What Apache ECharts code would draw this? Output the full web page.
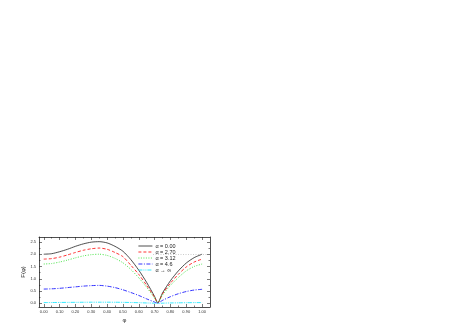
<!DOCTYPE html>
<html>
<head>
<meta charset="utf-8">
<script src="https://cdn.jsdelivr.net/npm/echarts@6/dist/echarts.min.js"></script>
<style>
  html, body { margin: 0; padding: 0; background: #fff; }
  #chart { width: 463px; height: 327px; }
</style>
</head>
<body>
<div id="chart"></div>
<script>
// phi sample points
const phi = [0.00, 0.05, 0.10, 0.15, 0.20, 0.25, 0.30, 0.35, 0.40, 0.45, 0.50, 0.55, 0.60, 0.65, 0.70, 0.72, 0.75, 0.80, 0.85, 0.90, 0.95, 1.00]

// F(phi) for each alpha
const alpha000 = [2.00, 2.02, 2.10, 2.20, 2.32, 2.42, 2.49, 2.51, 2.46, 2.32, 2.12, 1.78, 1.35, 0.85, 0.28, 0.02, 0.42, 0.92, 1.32, 1.64, 1.86, 2.00]
const alpha270 = [1.80, 1.82, 1.88, 1.97, 2.07, 2.16, 2.22, 2.25, 2.20, 2.07, 1.90, 1.55, 1.18, 0.73, 0.24, 0.02, 0.38, 0.82, 1.18, 1.48, 1.68, 1.80]
const alpha312 = [1.60, 1.62, 1.68, 1.76, 1.85, 1.93, 1.98, 2.00, 1.95, 1.83, 1.65, 1.38, 1.04, 0.65, 0.21, 0.02, 0.34, 0.73, 1.05, 1.32, 1.50, 1.60]
const alpha46  = [0.58, 0.59, 0.61, 0.64, 0.67, 0.70, 0.72, 0.73, 0.70, 0.64, 0.55, 0.44, 0.32, 0.18, 0.05, 0.01, 0.12, 0.27, 0.39, 0.48, 0.54, 0.57]
const alphaInf = [0.03, 0.032, 0.035, 0.038, 0.04, 0.043, 0.045, 0.045, 0.045, 0.043, 0.04, 0.033, 0.025, 0.015, 0.005, 0.0, 0.006, 0.015, 0.02, 0.025, 0.028, 0.03]

const xMajor = [0.00, 0.10, 0.20, 0.30, 0.40, 0.50, 0.60, 0.70, 0.80, 0.90, 1.00]
const xMinor = [0.05, 0.15, 0.25, 0.35, 0.45, 0.55, 0.65, 0.75, 0.85, 0.95]
const yMajor = [0.0, 0.5, 1.0, 1.5, 2.0, 2.5]
const yMinor = [0.25, 0.75, 1.25, 1.75, 2.25]

const chart = echarts.init(document.getElementById('chart'))

const X_MIN = -0.03, X_MAX = 1.05
const Y_MIN = -0.15, Y_MAX = 2.7
const frame = { show: true, onZero: false, lineStyle: { color: '#222', width: 0.8 } }
const noLine = { show: false, onZero: false }

function xAx(pos, ticks, len, withLabel) {
  return {
    type: 'value', min: X_MIN, max: X_MAX, position: pos,
    axisLine: len > 2 ? frame : noLine,
    axisTick: { show: true, inside: true, length: len, customValues: ticks, lineStyle: { color: '#222', width: 0.6 } },
    axisLabel: withLabel
      ? { show: true, customValues: ticks, fontSize: 4, color: '#333', margin: 3, formatter: v => v.toFixed(2) }
      : { show: false },
    splitLine: { show: false },
    name: withLabel ? 'φ' : '',
    nameLocation: 'middle', nameGap: 10,
    nameTextStyle: { fontSize: 6, color: '#222' }
  }
}

function yAx(pos, ticks, len, withLabel) {
  return {
    type: 'value', min: Y_MIN, max: Y_MAX, position: pos,
    axisLine: len > 2 ? frame : noLine,
    axisTick: { show: true, inside: true, length: len, customValues: ticks, lineStyle: { color: '#222', width: 0.6 } },
    axisLabel: withLabel
      ? { show: true, customValues: ticks, fontSize: 4, color: '#333', margin: 3, formatter: v => v.toFixed(1) }
      : { show: false },
    splitLine: { show: false },
    name: withLabel ? 'F(φ)' : '',
    nameLocation: 'middle', nameGap: 13, nameRotate: 90,
    nameTextStyle: { fontSize: 6, color: '#222' }
  }
}

function line(name, values, color, dash, extra) {
  return Object.assign({
    name, type: 'line',
    data: phi.map((p, i) => [p, values[i]]),
    symbol: 'none', smooth: 0.25,
    lineStyle: { color, width: 0.8, type: dash },
    itemStyle: { color },
    silent: true
  }, extra || {})
}

chart.setOption({
  animation: false,
  backgroundColor: '#fff',
  grid: { left: 39, right: 253, top: 237, bottom: 20 },
  xAxis: [
    xAx('bottom', xMajor, 3, true),
    xAx('bottom', xMinor, 1.5, false),
    xAx('top', xMajor, 3, false),
    xAx('top', xMinor, 1.5, false)
  ],
  yAxis: [
    yAx('left', yMajor, 3, true),
    yAx('left', yMinor, 1.5, false),
    yAx('right', yMajor, 3, false),
    yAx('right', yMinor, 1.5, false)
  ],
  legend: {
    orient: 'vertical', left: 138, top: 243, padding: 0,
    itemWidth: 14, itemHeight: 5.6, itemGap: 0,
    itemStyle: { opacity: 0 },
    lineStyle: { width: 0.8 },
    textStyle: { fontSize: 5.5, lineHeight: 5.6, color: '#222', padding: [0, 0, 0, -2] },
    data: ['α = 0.00', 'α = 2.70', 'α = 3.12', 'α = 4.6', 'α → ∞']
  },
  series: [
    line('α = 0.00', alpha000, '#222', 'solid', {
      markLine: {
        silent: true, symbol: 'none', label: { show: false },
        lineStyle: { color: '#aaa', width: 0.6, type: [1, 1.5] },
        data: [[{ coord: [0.69, 2.0] }, { coord: [1.03, 2.0] }]]
      }
    }),
    line('α = 2.70', alpha270, '#ff0000', [3, 2]),
    line('α = 3.12', alpha312, '#22dd22', [1, 1.5]),
    line('α = 4.6', alpha46, '#0000ff', [4, 1.5, 1, 1.5]),
    line('α → ∞', alphaInf, '#00e5ff', [4, 1, 1, 1, 1, 1])
  ]
})
</script>
</body>
</html>
